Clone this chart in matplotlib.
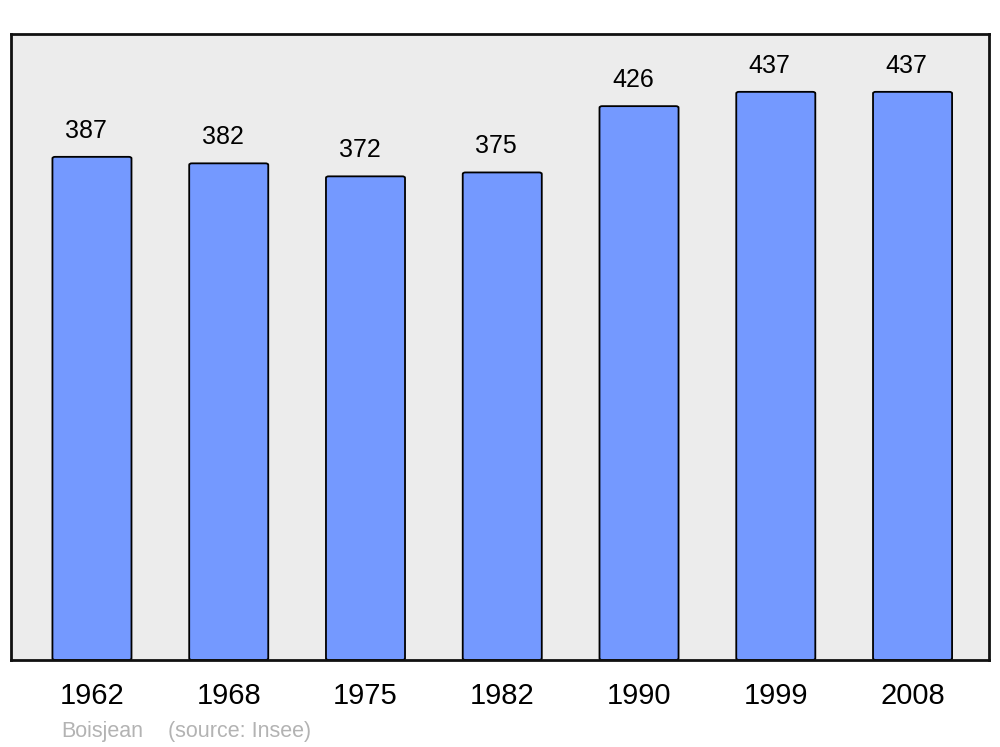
import matplotlib.pyplot as plt
from matplotlib.patches import FancyBboxPatch

# Population by census year
years = ['1962', '1968', '1975', '1982', '1990', '1999', '2008']
population = [387, 382, 372, 375, 426, 437, 437]

plt.rcParams['font.family'] = ['Liberation Sans', 'DejaVu Sans']

fig = plt.figure(figsize=(10, 7.47), dpi=100)
ax = fig.add_axes([0.011, 0.1165, 0.978, 0.838])
ax.set_facecolor('#ececec')

pos = list(range(len(years)))
width = 0.578
bars = ax.bar(pos, population, width=width, color='#7499ff', edgecolor='black',
              linewidth=1.3, zorder=2)

# replace square bars with slightly rounded ones
for b in bars:
    b.set_visible(False)
    x, y = b.get_x(), b.get_y()
    w, h = b.get_width(), b.get_height()
    p = FancyBboxPatch((x, y), w, h, boxstyle='round,pad=0,rounding_size=0.02',
                       mutation_aspect=60, facecolor='#7499ff', edgecolor='black',
                       linewidth=1.3, zorder=2)
    ax.add_patch(p)

for i, v in enumerate(population):
    ax.annotate(str(v), (i, v), xytext=(-6, 26), textcoords='offset pixels',
                ha='center', va='center', fontsize=18)

ax.set_xlim(-0.592, 6.559)
ax.set_ylim(0, 481.5)
ax.set_yticks([])
ax.set_xticks(pos)
ax.set_xticklabels(years, fontsize=21)
ax.tick_params(axis='x', length=0, pad=16)
for lbl in ax.get_xticklabels():
    lbl.set_x(lbl.get_position()[0])

for s in ax.spines.values():
    s.set_linewidth(2)
    s.set_color('#111111')

fig.text(0.061, 0.021, 'Boisjean', color='#b3b3b3', fontsize=15.5, va='center')
fig.text(0.168, 0.021, '(source: Insee)', color='#b3b3b3', fontsize=15.5, va='center')

fig.savefig('out.png')
